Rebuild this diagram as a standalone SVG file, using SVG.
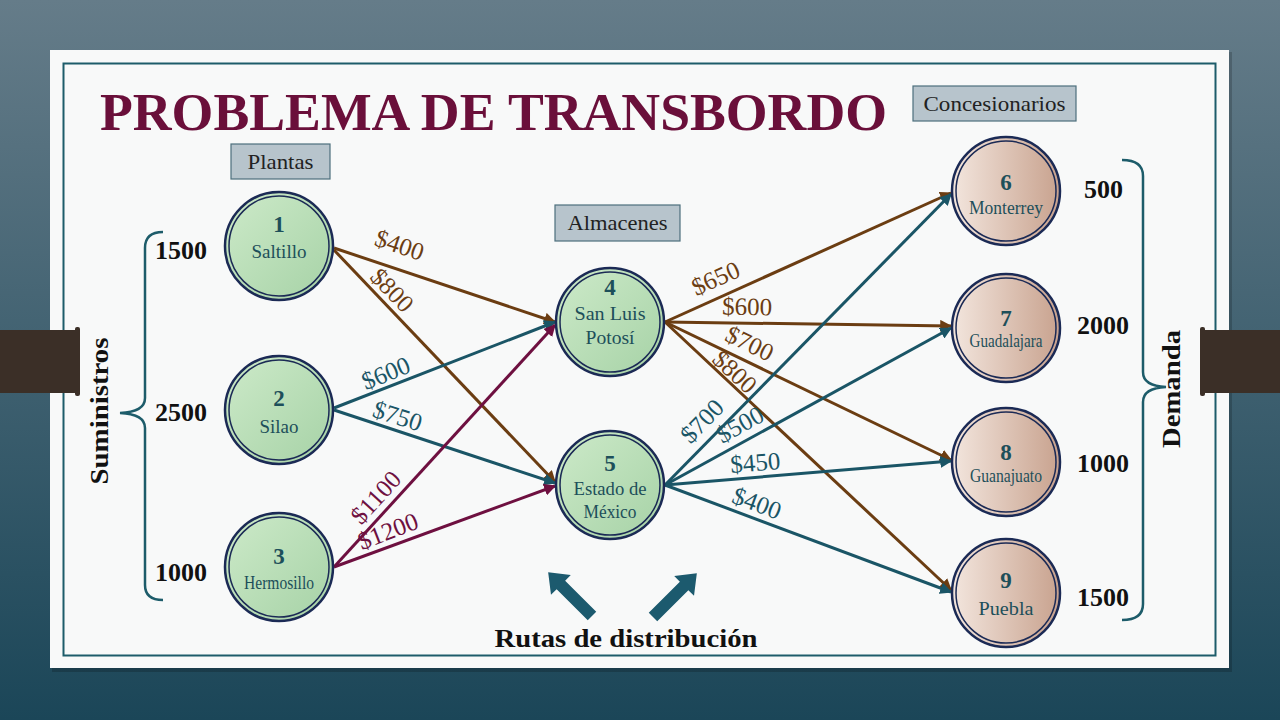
<svg xmlns="http://www.w3.org/2000/svg" width="1280" height="720" viewBox="0 0 1280 720">
<defs>
<linearGradient id="bg" x1="0" y1="0" x2="0" y2="1">
<stop offset="0" stop-color="#657c89"/>
<stop offset="1" stop-color="#1b4658"/>
</linearGradient>
<linearGradient id="gGreen" x1="0" y1="0" x2="1" y2="1">
<stop offset="0" stop-color="#cdeac9"/>
<stop offset="1" stop-color="#a6d2a6"/>
</linearGradient>
<linearGradient id="gTan" x1="0" y1="0" x2="1" y2="0">
<stop offset="0" stop-color="#f3e6de"/>
<stop offset="1" stop-color="#c8a28e"/>
</linearGradient>
<marker id="aBrown" viewBox="0 0 10 10" refX="9" refY="5" markerWidth="4" markerHeight="4" orient="auto" markerUnits="strokeWidth">
<path d="M0,0 L10,5 L0,10 z" fill="#6b3d12"/>
</marker>
<marker id="aTeal" viewBox="0 0 10 10" refX="9" refY="5" markerWidth="4" markerHeight="4" orient="auto" markerUnits="strokeWidth">
<path d="M0,0 L10,5 L0,10 z" fill="#1a5566"/>
</marker>
<marker id="aMaroon" viewBox="0 0 10 10" refX="9" refY="5" markerWidth="4" markerHeight="4" orient="auto" markerUnits="strokeWidth">
<path d="M0,0 L10,5 L0,10 z" fill="#6e1040"/>
</marker>
<style>
text{font-family:"Liberation Serif","DejaVu Serif",serif;}
.title{font-weight:bold;font-size:52px;fill:#6a0f3a;}
.cat{font-size:21px;fill:#222;text-anchor:middle;}
.catbox{fill:#b7c4cc;stroke:#4d6f7c;stroke-width:1.2;}
.num{font-weight:bold;font-size:23px;fill:#1d4f5a;text-anchor:middle;}
.name{font-size:18px;fill:#1d4f5a;text-anchor:middle;}
.outer{stroke:#1b2a55;stroke-width:2.5;}
.inner{fill:none;stroke:#1b2a55;stroke-width:1.5;}
.qty{font-weight:bold;font-size:26px;fill:#111;}
.side{font-weight:bold;font-size:26px;fill:#111;}
.brace{fill:none;stroke:#1d5c6a;stroke-width:2.5;}
.e{fill:none;stroke-width:3;}
.brown{stroke:#6b3d12;marker-end:url(#aBrown);}
.teal{stroke:#1a5566;marker-end:url(#aTeal);}
.maroon{stroke:#6e1040;marker-end:url(#aMaroon);}
.lbl{font-size:25px;text-anchor:middle;}
.lb{fill:#6b3d12;}
.lt{fill:#1a5566;}
.lm{fill:#6e1040;}
</style>
</defs>

<rect x="0" y="0" width="1280" height="720" fill="url(#bg)"/>
<rect x="52" y="52" width="1180" height="620" fill="#000" opacity="0.18"/>
<rect x="50" y="50" width="1179" height="618" fill="#f8f9f9"/>
<rect x="63.5" y="63.5" width="1152" height="592" fill="none" stroke="#1d5c6a" stroke-width="2"/>
<rect x="0" y="330" width="78" height="63" fill="#3b2f27"/>
<rect x="75" y="327" width="5" height="69" rx="2" fill="#3b2f27"/>
<rect x="1202" y="330" width="78" height="63" fill="#3b2f27"/>
<rect x="1200" y="327" width="5" height="69" rx="2" fill="#3b2f27"/>

<text class="title" x="100" y="130" textLength="787" lengthAdjust="spacingAndGlyphs">PROBLEMA DE TRANSBORDO</text>

<g id="cat-plantas"><rect class="catbox" x="231" y="144" width="99" height="35"/><text class="cat" x="280.5" y="169" textLength="66" lengthAdjust="spacingAndGlyphs">Plantas</text></g>
<g id="cat-almacenes"><rect class="catbox" x="555" y="205" width="125" height="36"/><text class="cat" x="617.5" y="230" textLength="100" lengthAdjust="spacingAndGlyphs">Almacenes</text></g>
<g id="cat-concesionarios"><rect class="catbox" x="913" y="86" width="163" height="35"/><text class="cat" x="994.5" y="111" textLength="142" lengthAdjust="spacingAndGlyphs">Concesionarios</text></g>

<g id="supply">
<path class="brace" d="M163,232 Q145,232 145,248 L145,398 Q145,412 120,413 Q145,414 145,428 L145,585 Q145,600 163,600"/>
<text class="side" transform="translate(108,411) rotate(-90)" text-anchor="middle" textLength="147" lengthAdjust="spacingAndGlyphs">Suministros</text>
<text class="qty" x="155" y="259">1500</text>
<text class="qty" x="155" y="421">2500</text>
<text class="qty" x="155" y="581">1000</text>
</g>

<g id="demand">
<path class="brace" d="M1122,160 Q1143,160 1143,176 L1143,372 Q1143,386 1166,387 Q1143,388 1143,402 L1143,604 Q1143,620 1122,620"/>
<text class="side" transform="translate(1180,389) rotate(-90)" text-anchor="middle" textLength="118" lengthAdjust="spacingAndGlyphs">Demanda</text>
<text class="qty" x="1084" y="198">500</text>
<text class="qty" x="1077" y="334">2000</text>
<text class="qty" x="1077" y="472">1000</text>
<text class="qty" x="1077" y="606">1500</text>
</g>

<g id="connectors">
<line class="e brown" x1="334" y1="248" x2="555" y2="322"/>
<line class="e brown" x1="334" y1="250" x2="555" y2="482"/>
<line class="e teal" x1="334" y1="408" x2="555" y2="322"/>
<line class="e teal" x1="334" y1="410" x2="555" y2="483"/>
<line class="e maroon" x1="334" y1="567" x2="555" y2="325"/>
<line class="e maroon" x1="334" y1="567" x2="555" y2="486"/>
<line class="e brown" x1="665" y1="322" x2="951" y2="193"/>
<line class="e brown" x1="665" y1="322" x2="951" y2="326"/>
<line class="e brown" x1="665" y1="322" x2="951" y2="460"/>
<line class="e brown" x1="665" y1="322" x2="951" y2="590"/>
<line class="e teal" x1="665" y1="485" x2="951" y2="194"/>
<line class="e teal" x1="665" y1="485" x2="951" y2="328"/>
<line class="e teal" x1="665" y1="485" x2="951" y2="461"/>
<line class="e teal" x1="665" y1="485" x2="951" y2="592"/>
<text class="lbl lb" transform="translate(397,253) rotate(18.5)">$400</text>
<text class="lbl lb" transform="translate(386,296) rotate(46)">$800</text>
<text class="lbl lt" transform="translate(389,381) rotate(-22)">$600</text>
<text class="lbl lt" transform="translate(395,424) rotate(18)">$750</text>
<text class="lbl lm" transform="translate(382,503) rotate(-47.6)">$1100</text>
<text class="lbl lm" transform="translate(391,539) rotate(-21)">$1200</text>
<text class="lbl lb" transform="translate(719,286) rotate(-24)">$650</text>
<text class="lbl lb" transform="translate(747,315) rotate(1)">$600</text>
<text class="lbl lb" transform="translate(746,351) rotate(25.8)">$700</text>
<text class="lbl lb" transform="translate(729,378) rotate(43)">$800</text>
<text class="lbl lt" transform="translate(708,427) rotate(-45.6)">$700</text>
<text class="lbl lt" transform="translate(744,432) rotate(-29)">$500</text>
<text class="lbl lt" transform="translate(756,471) rotate(-4.8)">$450</text>
<text class="lbl lt" transform="translate(754,511) rotate(20.5)">$400</text>
</g>

<g id="node-1"><circle class="outer" cx="279" cy="246" r="54" fill="url(#gGreen)"/><circle class="inner" cx="279" cy="246" r="50"/><text class="num" x="279" y="232">1</text><text class="name" x="279" y="258" textLength="55" lengthAdjust="spacingAndGlyphs">Saltillo</text></g>
<g id="node-2"><circle class="outer" cx="279" cy="410" r="54" fill="url(#gGreen)"/><circle class="inner" cx="279" cy="410" r="50"/><text class="num" x="279" y="406">2</text><text class="name" x="279" y="433" textLength="39" lengthAdjust="spacingAndGlyphs">Silao</text></g>
<g id="node-3"><circle class="outer" cx="279" cy="567" r="54" fill="url(#gGreen)"/><circle class="inner" cx="279" cy="567" r="50"/><text class="num" x="279" y="564">3</text><text class="name" x="279" y="589" font-size="15" textLength="70" lengthAdjust="spacingAndGlyphs">Hermosillo</text></g>
<g id="node-4"><circle class="outer" cx="610" cy="322" r="54" fill="url(#gGreen)"/><circle class="inner" cx="610" cy="322" r="50"/><text class="num" x="610" y="295">4</text><text class="name" x="610" y="320" textLength="71" lengthAdjust="spacingAndGlyphs">San Luis</text><text class="name" x="610" y="344" textLength="49" lengthAdjust="spacingAndGlyphs">Potosí</text></g>
<g id="node-5"><circle class="outer" cx="610" cy="485" r="54" fill="url(#gGreen)"/><circle class="inner" cx="610" cy="485" r="50"/><text class="num" x="610" y="471">5</text><text class="name" x="610" y="495" font-size="17" textLength="73" lengthAdjust="spacingAndGlyphs">Estado de</text><text class="name" x="610" y="518" font-size="17" textLength="53" lengthAdjust="spacingAndGlyphs">México</text></g>
<g id="node-6"><circle class="outer" cx="1006" cy="191" r="54" fill="url(#gTan)"/><circle class="inner" cx="1006" cy="191" r="50"/><text class="num" x="1006" y="190">6</text><text class="name" x="1006" y="214" font-size="15" textLength="74" lengthAdjust="spacingAndGlyphs">Monterrey</text></g>
<g id="node-7"><circle class="outer" cx="1006" cy="328" r="54" fill="url(#gTan)"/><circle class="inner" cx="1006" cy="328" r="50"/><text class="num" x="1006" y="326">7</text><text class="name" x="1006" y="347" font-size="14" textLength="73" lengthAdjust="spacingAndGlyphs">Guadalajara</text></g>
<g id="node-8"><circle class="outer" cx="1006" cy="462" r="54" fill="url(#gTan)"/><circle class="inner" cx="1006" cy="462" r="50"/><text class="num" x="1006" y="460">8</text><text class="name" x="1006" y="482" font-size="14" textLength="72" lengthAdjust="spacingAndGlyphs">Guanajuato</text></g>
<g id="node-9"><circle class="outer" cx="1006" cy="593" r="54" fill="url(#gTan)"/><circle class="inner" cx="1006" cy="593" r="50"/><text class="num" x="1006" y="588">9</text><text class="name" x="1006" y="615" textLength="55" lengthAdjust="spacingAndGlyphs">Puebla</text></g>

<g id="routes">
<polygon transform="translate(592,616) rotate(-135)" points="0,-6 44,-6 44,-14 62,0 44,14 44,6 0,6" fill="#1c5a6e"/>
<polygon transform="translate(653,617) rotate(-45)" points="0,-6 44,-6 44,-14 62,0 44,14 44,6 0,6" fill="#1c5a6e"/>
<text class="side" x="626" y="647" text-anchor="middle" font-size="27" textLength="263" lengthAdjust="spacingAndGlyphs">Rutas de distribución</text>
</g>
</svg>
